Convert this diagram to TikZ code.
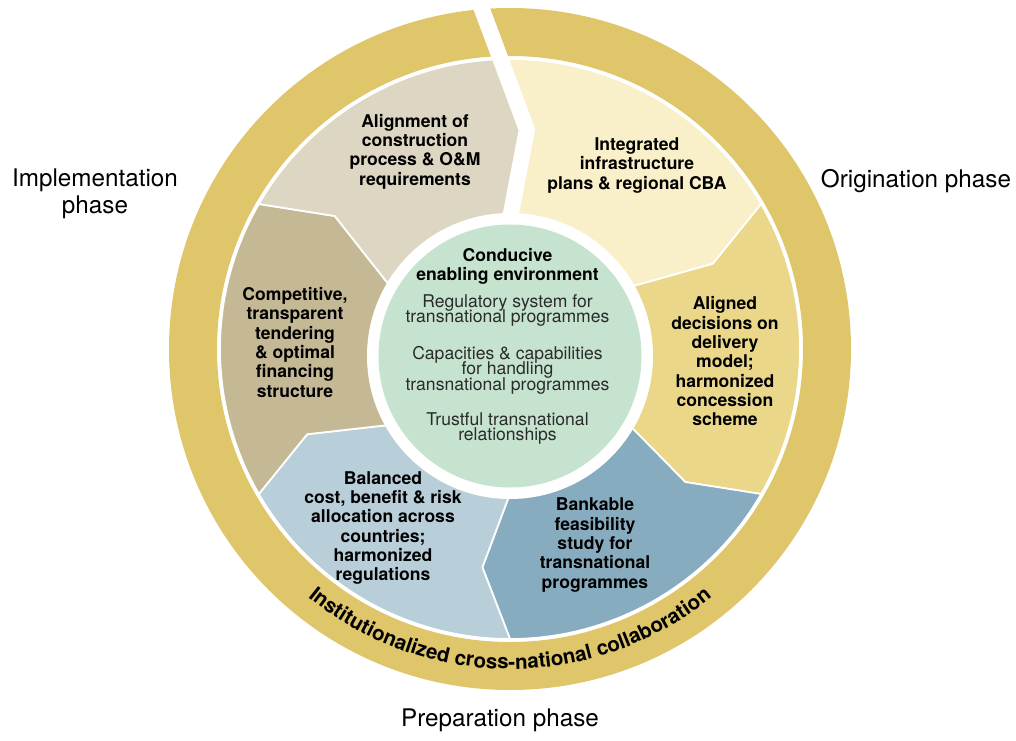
\documentclass[tikz,border=0pt]{standalone}
\usepackage{fontspec}
\setmainfont{TeX Gyre Heros}
\usetikzlibrary{decorations.text}
\usepackage{xcolor}
\definecolor{ringfill}{HTML}{DFC66A}
\definecolor{integfill}{HTML}{F9F0CA}
\definecolor{alignedfill}{HTML}{EAD78A}
\definecolor{bankfill}{HTML}{88ACBF}
\definecolor{balfill}{HTML}{B8CED8}
\definecolor{compfill}{HTML}{C5B995}
\definecolor{alignfill}{HTML}{DDD6C2}
\definecolor{corefill}{HTML}{C6E3CF}
\definecolor{coretxt}{HTML}{2B2B2B}
\setlength{\lineskiplimit}{-10pt}
\tikzset{
  seg/.style      ={draw=white, line width=1pt, line join=round},
  segtxt/.style   ={align=center, font=\fontsize{10}{11}\selectfont\bfseries, inner sep=0pt},
  coretitle/.style={align=center, font=\fontsize{10}{10.8}\selectfont\bfseries, inner sep=0pt},
  corebody/.style ={align=center, font=\fontsize{10}{8.8}\selectfont, text=coretxt, inner sep=0pt},
  phase/.style    ={align=center, font=\fontsize{13.8}{15.5}\selectfont, inner sep=0pt},
}

\begin{document}
\begin{tikzpicture}
    \useasboundingbox (-10.2,-7.82) rectangle (10.12,6.98);
    \coordinate (ctr) at (0,-0.14);
    % boundary points between the segments
    \foreach \i/\t in {1/30, 2/-30, 3/-90, 4/-150, 5/150} {
      \coordinate (in\i) at ([shift={(ctr)}]\t:2.75);
      \coordinate (k\i) at (\t-7.2:4.4);
      \coordinate (out\i) at (\t:5.8);
    }
    \coordinate (in0) at ([shift={(ctr)}]90:2.75);
    \coordinate (k0) at (85.6:4.4);
    \coordinate (out0) at (92:5.8);
    \coordinate (gap) at (-0.75,7.3);

    \filldraw[seg, fill=integfill] (ctr) -- (in0) -- (k0) -- (out0) arc[start angle=92, end angle=30, radius=5.8] -- (k1) -- (in1) -- cycle;
    \filldraw[seg, fill=alignedfill] (ctr) -- (in1) -- (k1) -- (out1) arc[start angle=30, end angle=-30, radius=5.8] -- (k2) -- (in2) -- cycle;
    \filldraw[seg, fill=bankfill] (ctr) -- (in2) -- (k2) -- (out2) arc[start angle=-30, end angle=-90, radius=5.8] -- (k3) -- (in3) -- cycle;
    \filldraw[seg, fill=balfill] (ctr) -- (in3) -- (k3) -- (out3) arc[start angle=-90, end angle=-150, radius=5.8] -- (k4) -- (in4) -- cycle;
    \filldraw[seg, fill=compfill] (ctr) -- (in4) -- (k4) -- (out4) arc[start angle=-150, end angle=-210, radius=5.8] -- (k5) -- (in5) -- cycle;
    \filldraw[seg, fill=alignfill] (ctr) -- (in5) -- (k5) -- (out5) arc[start angle=150, end angle=92, radius=5.8] -- (k0) -- (in0) -- cycle;

    % outer ring and the cut at the top
    \fill[ringfill, even odd rule] (0,0) circle (6.82) circle (5.86);
    \draw[white, line width=0.32cm, line join=miter] (gap) -- (k0) -- (in0);

    \fill[white] (ctr) circle (2.86);
    \fill[corefill] (ctr) circle (2.63);

    \node[coretitle] (core) at (-0.05,1.65) {Conducive\\enabling environment};
    \node[corebody] (reg) at (-0.05,0.77) {Regulatory system for\\transnational programmes};
    \node[corebody] (cap) at (-0.05,-0.42) {Capacities \& capabilities\\for handling\\transnational programmes};
    \node[corebody] (trust) at (-0.05,-1.59) {Trustful transnational\\relationships};

    \node[segtxt] (integ) at (2.54,3.67) {Integrated\\infrastructure\\plans \& regional CBA};
    \node[segtxt] (aligned) at (4.3,-0.25) {Aligned\\decisions on\\delivery\\model;\\harmonized\\concession\\scheme};
    \node[segtxt] (bank) at (1.7,-3.92) {Bankable\\feasibility\\study for\\transnational\\programmes};
    \node[segtxt] (bal) at (-2.54,-3.58) {Balanced\\cost, benefit \& risk\\allocation across\\countries;\\harmonized\\regulations};
    \node[segtxt] (comp) at (-4.3,0.13) {Competitive,\\transparent\\tendering\\\& optimal\\financing\\structure};
    \node[segtxt] (align) at (-1.9,3.95) {Alignment of\\construction\\process \& O\&M\\requirements};

    \path[decorate, decoration={text along path, text align=center,
      text={|\fontsize{11.7}{12}\selectfont\bfseries|Institutionalized cross-national collaboration}}]
      (200:6.4) arc[start angle=200, end angle=340, radius=6.4];

    \node[phase] (impl) at (-8.3,3.11) {Implementation\\phase};
    \node[phase] (orig) at (8.12,3.36) {Origination phase};
    \node[phase] (prep) at (-0.2,-7.42) {Preparation phase};
  \end{tikzpicture}
\end{document}
